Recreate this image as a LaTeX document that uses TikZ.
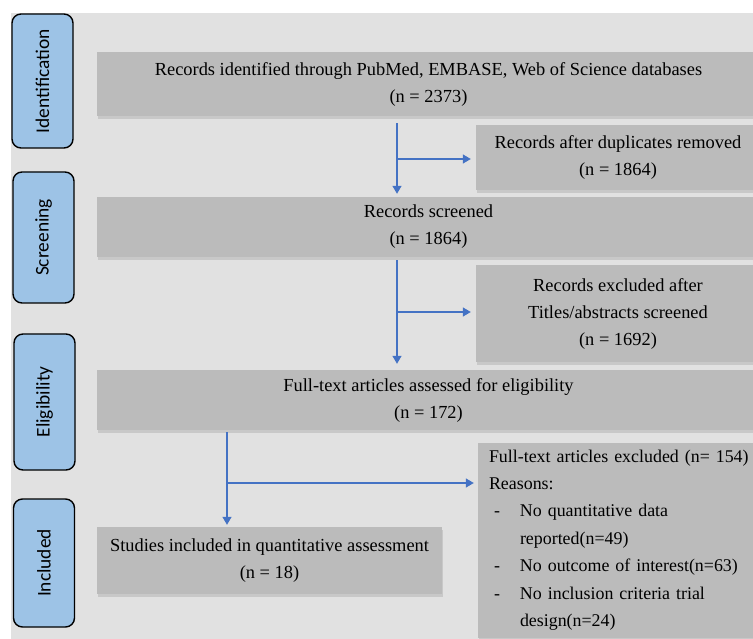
\documentclass[tikz,border=0pt]{standalone}
\usepackage{fontspec}
\setmainfont{Liberation Serif}
\newfontfamily\stagefont{Carlito}
\usetikzlibrary{positioning,shadows,arrows.meta}
\definecolor{PanelGrey}{HTML}{E1E1E1}
\definecolor{BoxGrey}{HTML}{BBBBBB}
\definecolor{StageBlue}{HTML}{9DC3E6}
\definecolor{FlowBlue}{HTML}{4472C4}

\begin{document}
\begin{tikzpicture}[x = 1pt, y = -1pt]
  \useasboundingbox (0,0) rectangle (753,639);
  \tikzset{StageStyle/.style = {shape          = rectangle,
                                rounded corners = 9pt,
                                draw           = black,
                                line width     = 1.4pt,
                                fill           = StageBlue,
                                text           = black,
                                rotate         = 90,
                                minimum height = 61pt,
                                font           = \stagefont\fontsize{19.4}{22}\selectfont}}
  \tikzset{BoxStyle/.style   = {shape          = rectangle,
                                fill           = BoxGrey,
                                text           = black,
                                align          = center,
                                inner sep      = 2pt,
                                drop shadow    = {shadow xshift = 1pt,
                                                  shadow yshift = -3pt,
                                                  opacity = 0.25},
                                font           = \fontsize{18.4}{27}\selectfont}}
  \tikzset{ArrowStyle/.style = {draw           = FlowBlue,
                                line width     = 1.3pt,
                                -{Triangle[length = 8pt, width = 9pt]}}}
     % background panel
     \fill[PanelGrey] (11,13) rectangle (753,639);
     % stages
     \node[StageStyle, minimum width = 134pt] (identification) at (42.5,81)  {Identification};
     \node[StageStyle, minimum width = 131pt] (screening)      at (43.5,237.5) {Screening};
     \node[StageStyle, minimum width = 136pt] (eligibility)    at (44.5,402) {Eligibility};
     \node[StageStyle, minimum width = 128pt] (included)       at (44,563)   {Included};
     % boxes
     \node[BoxStyle, minimum width = 663pt, minimum height = 64pt] (records) at (428.5,84)
          {Records identified through PubMed, EMBASE, Web of Science databases\\(n = 2373)};
     \node[BoxStyle, minimum width = 284pt, minimum height = 65pt] (dupes) at (618,157.5)
          {Records after duplicates removed\\(n = 1864)};
     \node[BoxStyle, minimum width = 663pt, minimum height = 60pt] (screened) at (428.5,227)
          {Records screened\\(n = 1864)};
     \node[BoxStyle, minimum width = 284pt, minimum height = 97pt] (titlesout) at (618,313.5)
          {Records excluded after\\Titles/abstracts screened\\(n = 1692)};
     \node[BoxStyle, minimum width = 663pt, minimum height = 60pt] (fulltext) at (428.5,400)
          {Full-text articles assessed for eligibility\\(n = 172)};
     \node[BoxStyle, minimum width = 345pt, minimum height = 67pt] (studies) at (269.5,560.5)
          {Studies included in quantitative assessment\\(n = 18)};
     \node[BoxStyle, align = left, text width = 275pt, inner xsep = 11pt,
           minimum height = 195pt, font = \fontsize{17.9}{27.4}\selectfont] (fullout) at (626.5,540)
          {Full-text articles excluded (n= 154)\\
           Reasons:\\
           \hspace*{5pt}\makebox[26pt][l]{-}No quantitative data\\
           \hspace*{31pt}reported(n=49)\\
           \hspace*{5pt}\makebox[26pt][l]{-}No outcome of interest(n=63)\\
           \hspace*{5pt}\makebox[26pt][l]{-}No inclusion criteria trial\\
           \hspace*{31pt}design(n=24)};
     % split points
     \coordinate (split1) at (397,159);
     \coordinate (split2) at (397,312);
     \coordinate (split3) at (227,483);
     % connectors
     \draw[ArrowStyle, shorten <= 7pt, shorten >= 3pt] (records.south -| split1) -- (screened.north -| split1);
     \draw[ArrowStyle, shorten >= 5pt] (split1) -- (split1 -| dupes.west);
     \draw[ArrowStyle, shorten <= 3pt, shorten >= 6pt] (screened.south -| split2) -- (fulltext.north -| split2);
     \draw[ArrowStyle, shorten >= 5pt] (split2) -- (split2 -| titlesout.west);
     \draw[ArrowStyle, shorten <= 2pt, shorten >= 2pt] (fulltext.south -| split3) -- (studies.north -| split3);
     \draw[ArrowStyle, shorten >= 4pt] (split3) -- (split3 -| fullout.west);

  \end{tikzpicture}
\end{document}
